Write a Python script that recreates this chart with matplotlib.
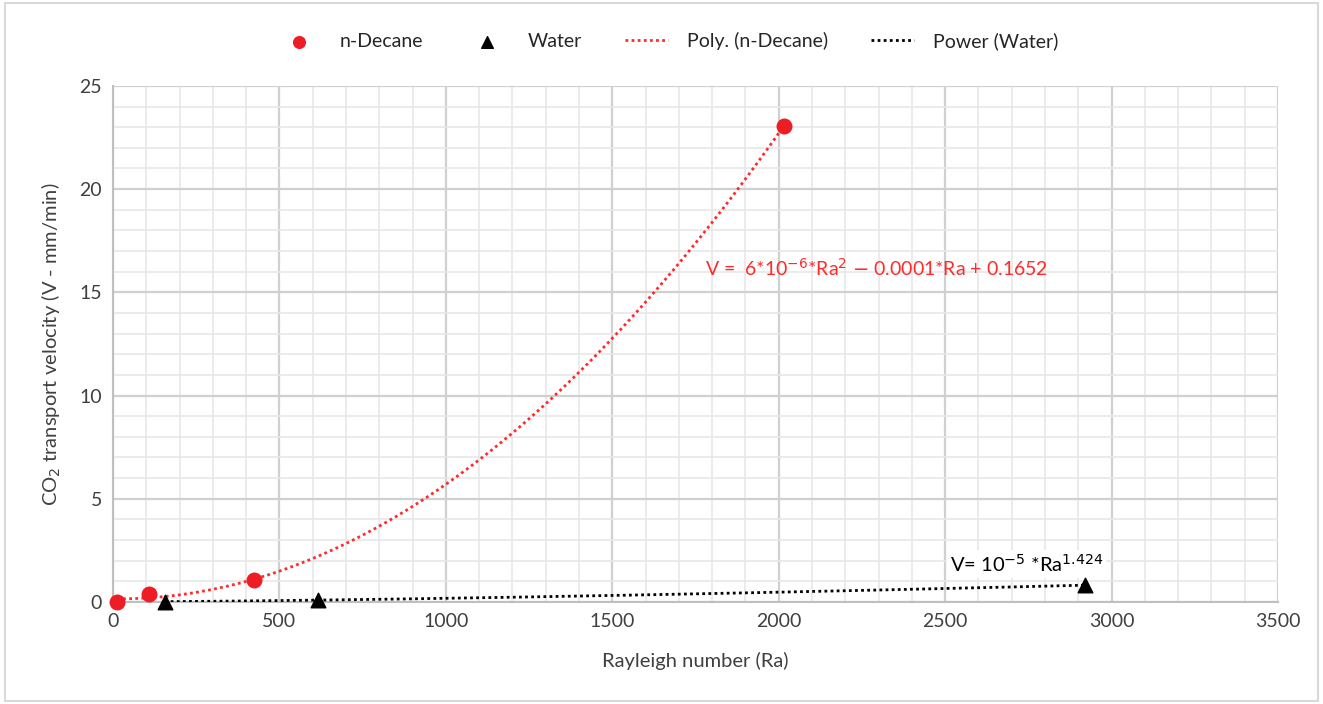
import numpy as np
import matplotlib.pyplot as plt
from matplotlib.ticker import MultipleLocator

# data
ra_decane = [12, 108, 425, 2015]
v_decane = [0.0, 0.4, 1.05, 23.05]
ra_water = [155, 615, 2920]
v_water = [0.012, 0.09, 0.8]

plt.rcParams['font.family'] = ['Lato', 'DejaVu Sans']

fig = plt.figure(figsize=(13.23, 7.04), dpi=100)
ax = fig.add_axes([0.0854, 0.145, 0.8806, 0.733])

# trendlines (least squares, like the spreadsheet)
p = np.polyfit(ra_decane, v_decane, 2)
xd = np.linspace(min(ra_decane), max(ra_decane), 300)
b, a = np.polyfit(np.log(ra_water), np.log(v_water), 1)
xw = np.linspace(min(ra_water), max(ra_water), 300)

ax.plot(xd, np.polyval(p, xd), color='#ff2a2a', ls=(0, (1, 1.2)), lw=2,
        label='Poly. (n-Decane)', zorder=3)
ax.plot(xw, np.exp(a) * xw ** b, color='black', ls=(0, (1, 1.2)), lw=2,
        label='Power (Water)', zorder=3)
ax.scatter(ra_decane, v_decane, s=110, color='#ee1c25', label='n-Decane',
           zorder=4, clip_on=False)
ax.scatter(ra_water, v_water, s=110, marker='^', color='black', label='Water',
           zorder=4, clip_on=False)

ax.set_xlim(0, 3500)
ax.set_ylim(0, 25)
ax.xaxis.set_major_locator(MultipleLocator(500))
ax.xaxis.set_minor_locator(MultipleLocator(100))
ax.yaxis.set_major_locator(MultipleLocator(5))
ax.yaxis.set_minor_locator(MultipleLocator(1))
ax.grid(which='major', color='#d0d0d0', lw=1.6)
ax.grid(which='minor', color='#e8e8e8', lw=1.2)
ax.set_axisbelow(True)
ax.tick_params(which='both', length=0, labelsize=14, colors='#404040', pad=8)
for s in ['top', 'right']:
    ax.spines[s].set_visible(False)
for s in ['left', 'bottom']:
    ax.spines[s].set_color('#bfbfbf')
    ax.spines[s].set_linewidth(1.5)

ax.set_xlabel('Rayleigh number (Ra)', fontsize=14.5, color='#404040', labelpad=16)
ax.set_ylabel('CO$_2$ transport velocity (V - mm/min)', fontsize=14.5, color='#404040', labelpad=12)

ax.text(1780, 15.8, r'V =  6*10$^{-6}$*Ra$^2$ $-$ 0.0001*Ra + 0.1652',
        color='#ff2a2a', fontsize=14)
ax.text(2515, 1.45, r'V= 10$^{-5}$ *Ra$^{1.424}$', color='black', fontsize=14.5,
        bbox=dict(facecolor='white', edgecolor='none', pad=2))

h, l = ax.get_legend_handles_labels()
order = [2, 3, 0, 1]
fig.legend([h[i] for i in order], [l[i] for i in order], loc='center',
           bbox_to_anchor=(0.505, 0.942), ncol=4, frameon=False, fontsize=14,
           columnspacing=2.2, handlelength=2.2, handletextpad=1.0,
           markerscale=0.8, labelcolor='#262626')

fig.patches.append(plt.Rectangle((0.004, 0.004), 0.992, 0.992, transform=fig.transFigure,
                                 fill=False, edgecolor='#d9d9d9', lw=1.5))
fig.savefig('out.png', dpi=100)
